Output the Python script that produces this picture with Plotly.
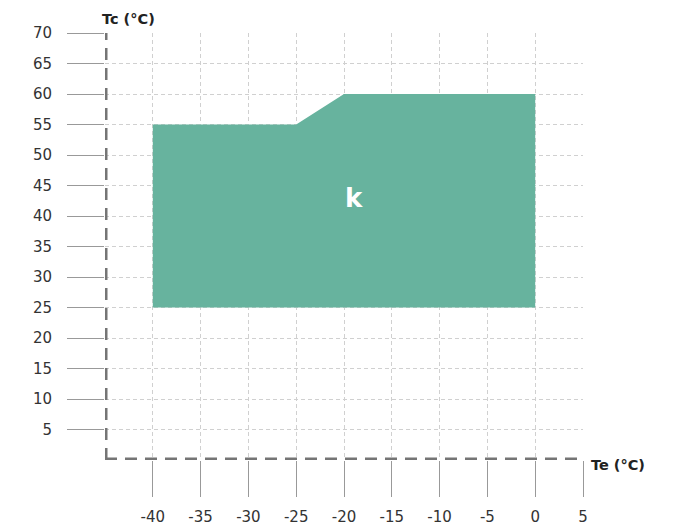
import plotly.graph_objects as go

# Envelope polygon (Te, Tc)
env_te = [-40, -40, -25, -20, 0, 0, -40]
env_tc = [25, 55, 55, 60, 60, 25, 25]
zone_label = "k"
label_pos = (-19, 43)

x_ticks = [-40, -35, -30, -25, -20, -15, -10, -5, 0, 5]
x_tick_text = ["-40", "-35", "-30", "-25", "-20", "-15", "-10", "-5", "0", "5"]
y_ticks = [5, 10, 15, 20, 25, 30, 35, 40, 45, 50, 55, 60, 65, 70]
y_tick_text = ["5", "10", "15", "20", "25", "30", "35", "40", "45", "50", "55", "60", "65", "70"]
x_range = [-45, 5]
y_range = [0, 70]
x_title = "Te (°C)"
y_title = "Tc (°C)"

FONT = "DejaVu Sans"
fig = go.Figure()
fig.add_trace(go.Scatter(
    x=env_te, y=env_tc, mode="lines", fill="toself",
    fillcolor="#67b39e", line=dict(width=0, color="#67b39e"),
    hoverinfo="skip", showlegend=False,
))

fig.add_annotation(x=label_pos[0], y=label_pos[1], text="<b>%s</b>" % zone_label,
                   showarrow=False, font=dict(family=FONT, size=26, color="white"))

# dashed axis lines
fig.add_shape(type="line", xref="x", yref="y", x0=x_range[0], x1=x_range[1], y0=y_range[0], y1=y_range[0],
              line=dict(color="#757575", width=5, dash="12px,8px"), layer="above")
fig.add_shape(type="line", xref="x", yref="y", x0=x_range[0], x1=x_range[0], y0=y_range[0], y1=y_range[1],
              line=dict(color="#757575", width=5, dash="12px,8px"), layer="above")

fig.add_annotation(xref="paper", yref="paper", x=0, y=1, xanchor="left", yanchor="bottom",
                   xshift=-5, yshift=4, text="<b>%s</b>" % y_title, showarrow=False,
                   font=dict(family=FONT, size=14.5, color="#222222"))
fig.add_annotation(xref="paper", yref="paper", x=1, y=0, xanchor="left", yanchor="middle",
                   xshift=6, yshift=-5, text="<b>%s</b>" % x_title, showarrow=False,
                   font=dict(family=FONT, size=14.5, color="#222222"))

fig.update_xaxes(range=x_range, tickvals=x_ticks, ticktext=x_tick_text, ticks="outside", ticklen=36,
                 tickwidth=1, tickcolor="#999999", showgrid=True, gridcolor="#d0d0d0",
                 griddash="4px,3px", gridwidth=1, zeroline=False, showline=False,
                 ticklabelstandoff=7, tickfont=dict(family=FONT, size=15, color="#333333"))
fig.update_yaxes(range=y_range, tickvals=y_ticks, ticktext=y_tick_text, ticks="outside", ticklen=37,
                 tickwidth=1, tickcolor="#999999", showgrid=True, gridcolor="#d0d0d0",
                 griddash="4px,3px", gridwidth=1, zeroline=False, showline=False,
                 ticklabelstandoff=12, tickfont=dict(family=FONT, size=15, color="#333333"))

fig.update_layout(width=674, height=522,
                  margin=dict(l=97, r=99, t=25, b=70, autoexpand=False),
                  plot_bgcolor="white", paper_bgcolor="white", showlegend=False)
fig.write_html("out.html")
